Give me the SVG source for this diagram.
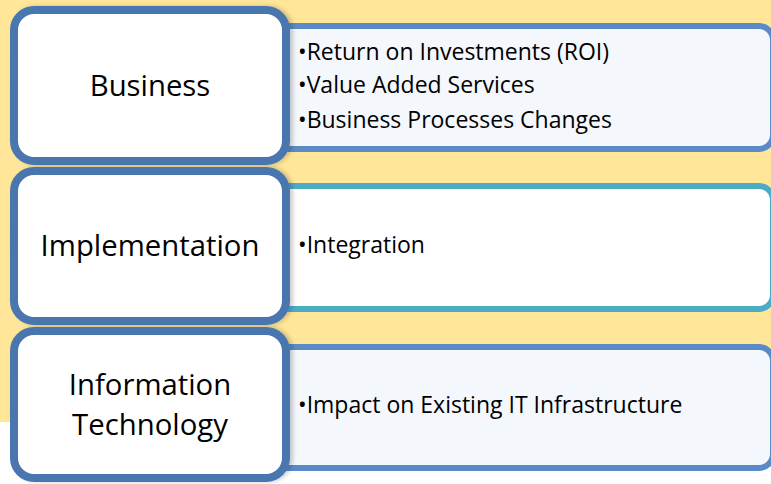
<svg xmlns="http://www.w3.org/2000/svg" width="771" height="484" viewBox="0 0 771 484">
  <defs>
    <filter id="sh" x="-10%" y="-10%" width="125%" height="125%">
      <feDropShadow dx="3" dy="0" stdDeviation="2" flood-color="#000" flood-opacity="0.2"/>
    </filter>
  </defs>
  <style>
    .bg { fill: #FFE699; }
    .head { fill: #FFFFFF; stroke: #4A76AE; stroke-width: 8; }
    .pan { fill: #F4F7FC; stroke: #5B8BC6; stroke-width: 6; }
    .pan2 { fill: #FFFFFF; stroke: #4BACC6; stroke-width: 6; }
    .ht { font-family: "Open Sans", "Liberation Sans", sans-serif; font-size: 29.3px; fill: #000; text-anchor: middle; }
    .bt { font-family: "Open Sans", "Liberation Sans", sans-serif; font-size: 23px; fill: #000; }
  </style>
  <rect class="bg" x="0" y="0" width="771" height="422"/>

  <g id="business-details">
    <rect class="pan" x="270" y="26" width="503" height="123" rx="14"/>
    <text class="bt" x="298" y="60">•Return on Investments (ROI)</text>
    <text class="bt" x="298" y="93">•Value Added Services</text>
    <text class="bt" x="298" y="128">•Business Processes Changes</text>
  </g>
  <g id="implementation-details">
    <rect class="pan2" x="270" y="186" width="503" height="123" rx="14"/>
    <text class="bt" x="298" y="253">•Integration</text>
  </g>
  <g id="it-details">
    <rect class="pan" x="270" y="347" width="503" height="121" rx="14"/>
    <text class="bt" x="298" y="413">•Impact on Existing IT Infrastructure</text>
  </g>

  <g id="business">
    <rect class="head" x="14" y="10" width="272" height="151" rx="20" filter="url(#sh)"/>
    <text class="ht" x="150" y="96">Business</text>
  </g>
  <g id="implementation">
    <rect class="head" x="14" y="171" width="272" height="150" rx="20" filter="url(#sh)"/>
    <text class="ht" x="150" y="256">Implementation</text>
  </g>
  <g id="information-technology">
    <rect class="head" x="14" y="331" width="272" height="147" rx="20" filter="url(#sh)"/>
    <text class="ht" x="150" y="395">Information</text>
    <text class="ht" x="150" y="435">Technology</text>
  </g>
  <g id="connectors"/>
</svg>
